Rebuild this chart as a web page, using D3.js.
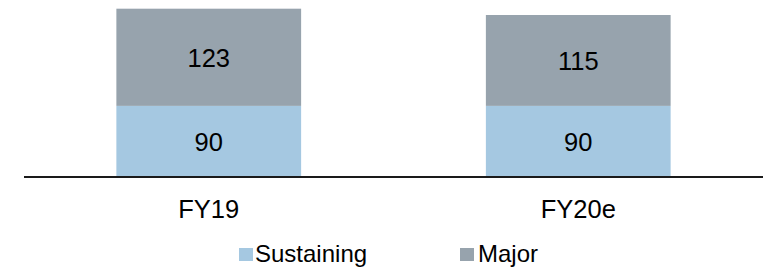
<!DOCTYPE html>
<html>
<head>
<meta charset="utf-8">
<script src="https://cdn.jsdelivr.net/npm/d3@7"></script>
<style>
  html, body { margin: 0; padding: 0; background: #fff; }
  svg { display: block; }
  text { font-family: "Liberation Sans", Arial, sans-serif; fill: #000; }
</style>
</head>
<body>
<svg id="chart" width="775" height="267"></svg>
<script>
const categories = ["FY19", "FY20e"];
const seriesNames = ["Sustaining", "Major"];
const sustaining = [90, 90];
const major = [123, 115];
const colors = ["#a5c8e1", "#97a3ad"];

const W = 775, H = 267;
const svg = d3.select("#chart");

const x = d3.scaleBand().domain(categories).range([24, 763]).paddingInner(0.5).paddingOuter(0.25);
const y = d3.scaleLinear().domain([0, 224]).range([177, 0]);

const rows = categories.map((c, i) => ({ cat: c, Sustaining: sustaining[i], Major: major[i] }));
const stack = d3.stack().keys(seriesNames)(rows);

const layers = svg.append("g").selectAll("g").data(stack).join("g")
  .attr("fill", (d, i) => colors[i]);

layers.selectAll("rect").data(d => d).join("rect")
  .attr("x", d => x(d.data.cat))
  .attr("width", x.bandwidth())
  .attr("y", d => y(d[1]))
  .attr("height", d => y(d[0]) - y(d[1]));

layers.selectAll("text").data(d => d).join("text")
  .attr("x", d => x(d.data.cat) + x.bandwidth() / 2)
  .attr("y", d => (y(d[0]) + y(d[1])) / 2 + 9.5)
  .attr("text-anchor", "middle")
  .style("font-size", "25.5px")
  .text(d => d[1] - d[0]);

// baseline axis
const axis = d3.axisBottom(x).tickSize(0).tickPadding(0);
const gAxis = svg.append("g").attr("transform", "translate(0,177)").call(axis);
gAxis.select(".domain").attr("stroke", "#1a1a1a").attr("stroke-width", 2)
  .attr("d", "M24,0H763");
gAxis.selectAll(".tick text")
  .attr("dy", null)
  .attr("y", 41.3)
  .style("font-size", "25.5px")
  .style("font-family", '"Liberation Sans", Arial, sans-serif')
  .attr("fill", "#000");

// legend
const legendX = [239, 460];
const legendTextX = [255, 478];
const lg = svg.append("g").selectAll("g").data(seriesNames).join("g");
lg.append("rect")
  .attr("x", (d, i) => legendX[i])
  .attr("y", 248)
  .attr("width", 14)
  .attr("height", 13)
  .attr("fill", (d, i) => colors[i]);
lg.append("text")
  .attr("x", (d, i) => legendTextX[i])
  .attr("y", 262)
  .style("font-size", "24px")
  .text(d => d);
</script>
</body>
</html>
